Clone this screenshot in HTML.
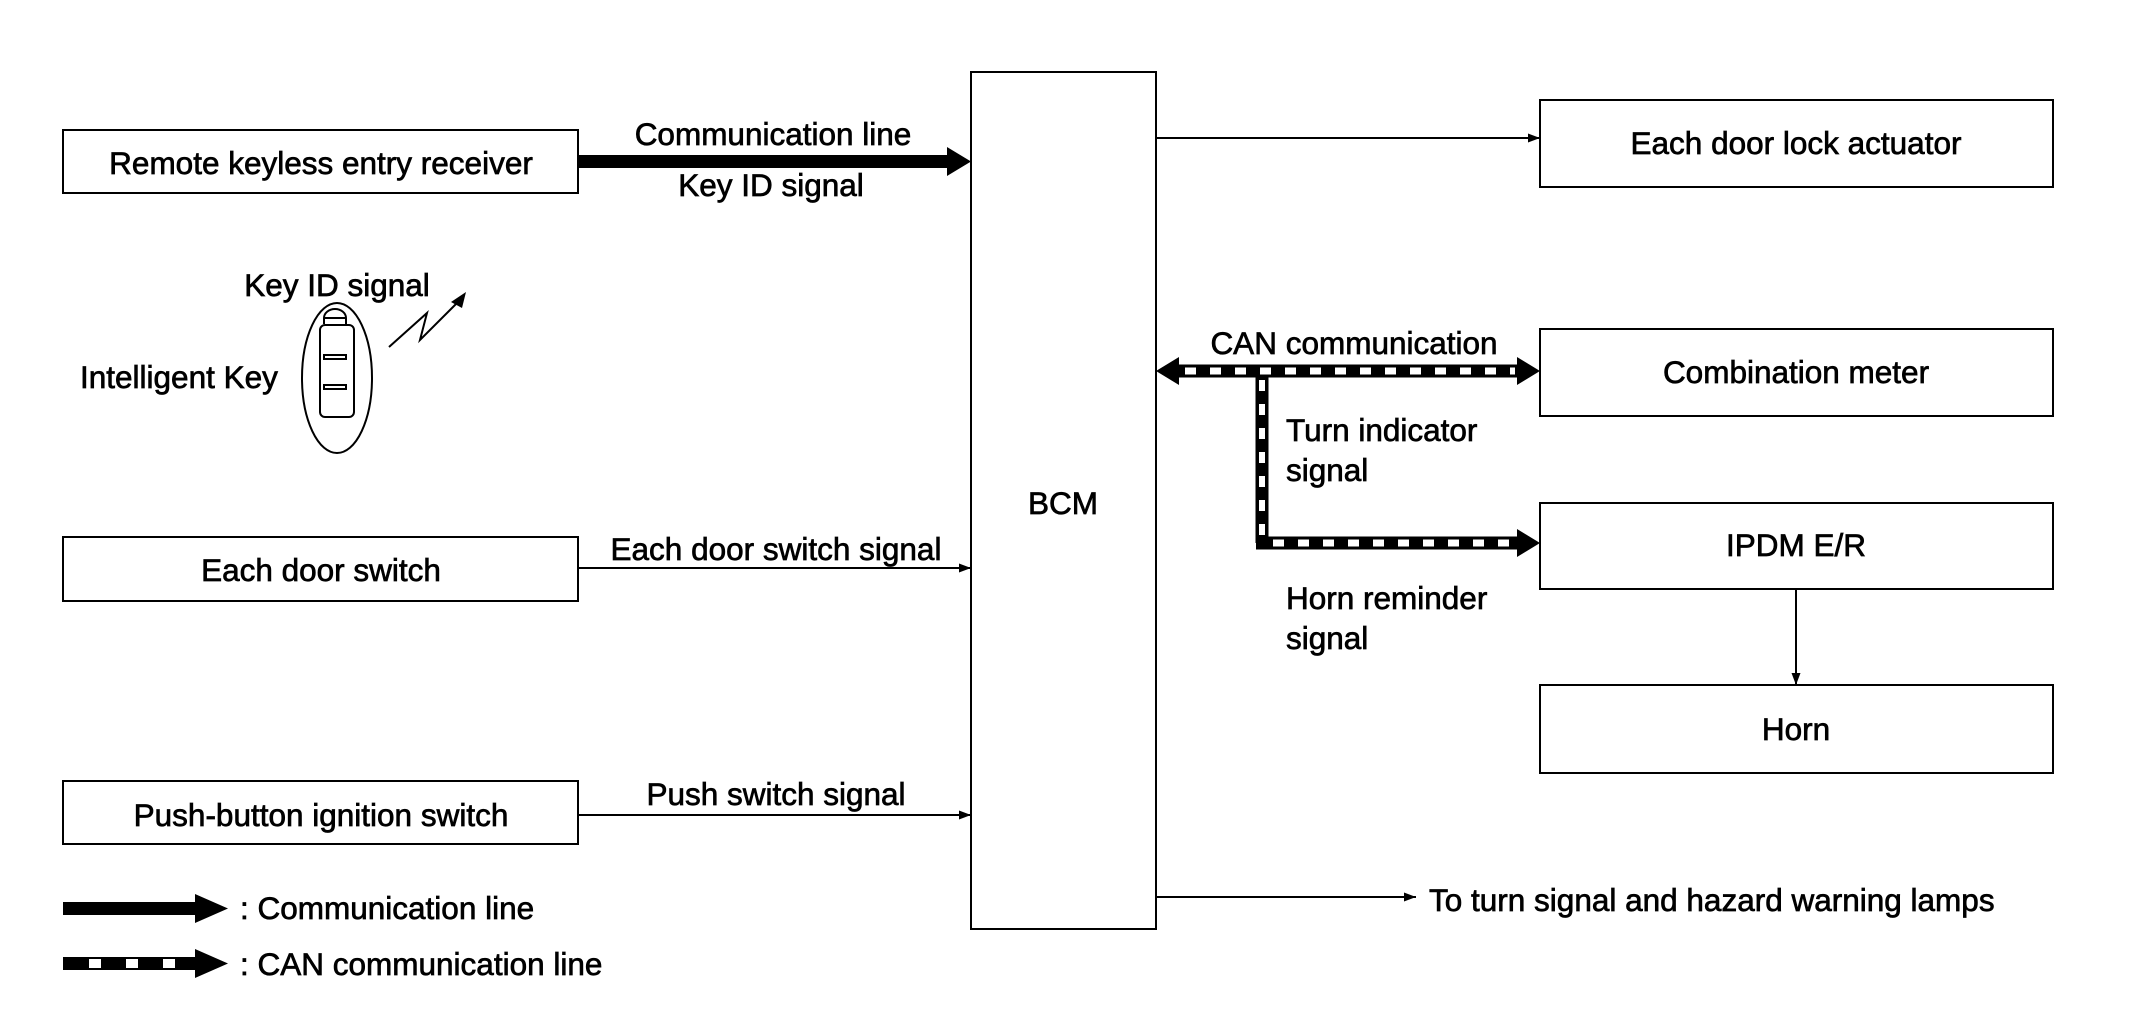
<!DOCTYPE html>
<html><head><meta charset="utf-8"><style>
html,body{margin:0;padding:0;background:#fff}
svg{display:block}
text{font-family:"Liberation Sans",Arial,sans-serif;font-size:31.5px;fill:#000;stroke:#000;stroke-width:0.7}
</style></head><body>
<svg width="2130" height="1021" viewBox="0 0 2130 1021" xmlns="http://www.w3.org/2000/svg">
<defs>
<marker id="ah" markerWidth="12" markerHeight="9" refX="12" refY="4.5" orient="auto" markerUnits="userSpaceOnUse"><path d="M0,0 L12,4.5 L0,9 Z" fill="#000"/></marker>
</defs>
<g fill="none" stroke="#000" stroke-width="2">
<rect x="63" y="130" width="515" height="63"/>
<rect x="63" y="537" width="515" height="64"/>
<rect x="63" y="781" width="515" height="63"/>
<rect x="971" y="72" width="185" height="857"/>
<rect x="1540" y="100" width="513" height="87"/>
<rect x="1540" y="329" width="513" height="87"/>
<rect x="1540" y="503" width="513" height="86"/>
<rect x="1540" y="685" width="513" height="88"/>
</g>
<g stroke="#000" stroke-width="2" fill="none">
<line x1="1156" y1="138" x2="1540" y2="138" marker-end="url(#ah)"/>
<line x1="578" y1="568" x2="971" y2="568" marker-end="url(#ah)"/>
<line x1="578" y1="815" x2="971" y2="815" marker-end="url(#ah)"/>
<line x1="1796" y1="589" x2="1796" y2="685" marker-end="url(#ah)"/>
<line x1="1156" y1="897" x2="1416" y2="897" marker-end="url(#ah)"/>
</g>
<rect x="578" y="155" width="371" height="13" fill="#000"/>
<path d="M947,147 L971,161.5 L947,176 Z" fill="#000"/>
<g fill="none">
<line x1="1177" y1="371" x2="1517" y2="371" stroke="#000" stroke-width="13"/>
<line x1="1262" y1="371" x2="1262" y2="543" stroke="#000" stroke-width="13"/>
<line x1="1256" y1="543" x2="1517" y2="543" stroke="#000" stroke-width="13"/>
<line x1="1185" y1="371" x2="1515" y2="371" stroke="#fff" stroke-width="7" stroke-dasharray="11 14"/>
<line x1="1262" y1="380" x2="1262" y2="536" stroke="#fff" stroke-width="6" stroke-dasharray="11 13"/>
<line x1="1273" y1="543" x2="1515" y2="543" stroke="#fff" stroke-width="7" stroke-dasharray="11 14"/>
</g>
<path d="M1156,371 L1179,357 L1179,385 Z" fill="#000"/>
<path d="M1540,371 L1517,357 L1517,385 Z" fill="#000"/>
<path d="M1540,543 L1517,529 L1517,557 Z" fill="#000"/>
<rect x="63" y="902" width="134" height="13" fill="#000"/>
<path d="M195,894 L228,908.5 L195,923 Z" fill="#000"/>
<rect x="63" y="957" width="134" height="13" fill="#000"/>
<g fill="#fff"><rect x="89" y="959" width="12" height="9"/><rect x="126" y="959" width="12" height="9"/><rect x="163" y="959" width="12" height="9"/></g>
<path d="M195,949 L228,963.5 L195,978 Z" fill="#000"/>
<g fill="none" stroke="#000" stroke-width="2">
<ellipse cx="337" cy="378" rx="35" ry="75"/>
<rect x="320" y="325" width="34" height="92" rx="5"/>
<path d="M324,324 L324,318 A11,9 0 0 1 346,318 L346,324"/>
<line x1="324" y1="318" x2="346" y2="318"/>
<rect x="324" y="355" width="22" height="4"/>
<rect x="324" y="385" width="22" height="4"/>
<polyline points="389,347 427,313 420,340 460,300"/>
</g>
<path d="M466,292 L451,302 L462,308 Z" fill="#000"/>
<g text-anchor="middle">
<text x="321" y="174">Remote keyless entry receiver</text>
<text x="321" y="581">Each door switch</text>
<text x="321" y="826">Push-button ignition switch</text>
<text x="1063" y="514">BCM</text>
<text x="1796" y="154">Each door lock actuator</text>
<text x="1796" y="383">Combination meter</text>
<text x="1796" y="556">IPDM E/R</text>
<text x="1796" y="740">Horn</text>
<text x="773" y="145">Communication line</text>
<text x="771" y="196">Key ID signal</text>
<text x="337" y="296">Key ID signal</text>
<text x="776" y="560">Each door switch signal</text>
<text x="776" y="805">Push switch signal</text>
<text x="1354" y="354">CAN communication</text>
</g>
<text x="80" y="388">Intelligent Key</text>
<text x="1286" y="441">Turn indicator</text>
<text x="1286" y="481">signal</text>
<text x="1286" y="609">Horn reminder</text>
<text x="1286" y="649">signal</text>
<text x="1429" y="911">To turn signal and hazard warning lamps</text>
<text x="240" y="919">: Communication line</text>
<text x="240" y="975">: CAN communication line</text>
</svg>
</body></html>
